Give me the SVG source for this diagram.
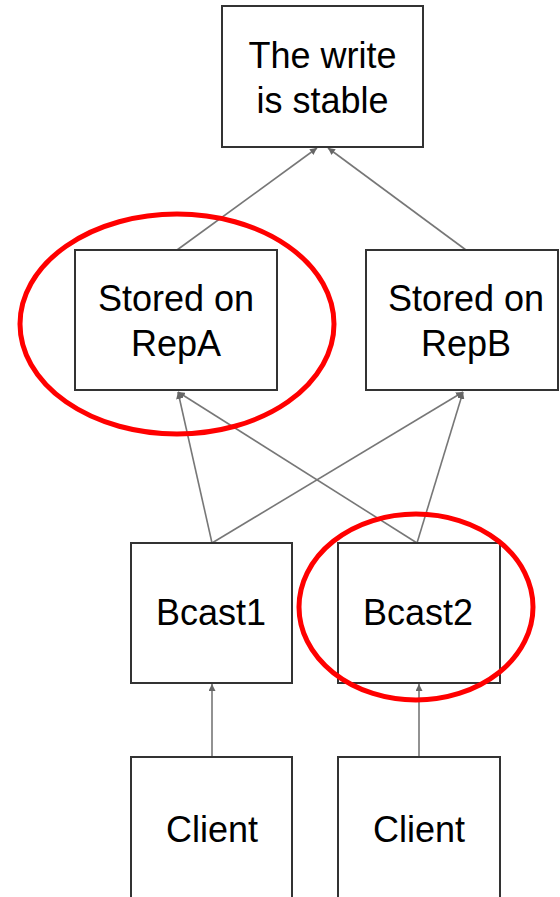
<svg xmlns="http://www.w3.org/2000/svg" width="560" height="897" viewBox="0 0 560 897">
<style>
.box{fill:#fff;stroke:#333;stroke-width:2}
.lbl{font-family:"Liberation Sans",Arial,sans-serif;font-size:36px;fill:#000;text-anchor:middle}
.edge{stroke:#777;stroke-width:1.6;fill:none;marker-end:url(#arr)}
.hl{fill:none;stroke:#f00;stroke-width:5}
</style>
<defs>
<marker id="arr" viewBox="0 0 10 10" refX="10" refY="5" markerWidth="7" markerHeight="7" markerUnits="userSpaceOnUse" orient="auto">
<path d="M0,0 L10,5 L0,10 z" fill="#666"/>
</marker>
</defs>
<rect width="560" height="897" fill="#fff"/>
<g id="connectors">
<line class="edge" x1="177" y1="250" x2="317" y2="148"/>
<line class="edge" x1="466" y1="250" x2="328" y2="148"/>
<line class="edge" x1="212" y1="543" x2="178" y2="392"/>
<line class="edge" x1="212" y1="543" x2="463" y2="392"/>
<line class="edge" x1="417" y1="543" x2="178" y2="392"/>
<line class="edge" x1="417" y1="543" x2="463" y2="392"/>
<line class="edge" x1="212" y1="757" x2="212" y2="684"/>
<line class="edge" x1="419" y1="757" x2="419" y2="684"/>
</g>
<g id="stable">
<rect class="box" x="222" y="6" width="201" height="141"/>
<text class="lbl" x="322.5" y="68">The write</text>
<text class="lbl" x="322.5" y="113">is stable</text>
</g>
<g id="repA">
<rect class="box" x="75" y="250" width="202" height="140"/>
<text class="lbl" x="176" y="311">Stored on</text>
<text class="lbl" x="176" y="356">RepA</text>
</g>
<g id="repB">
<rect class="box" x="366" y="250" width="192" height="140"/>
<text class="lbl" x="466" y="311">Stored on</text>
<text class="lbl" x="466" y="356">RepB</text>
</g>
<g id="bcast1">
<rect class="box" x="131" y="543" width="161" height="140"/>
<text class="lbl" x="211" y="625">Bcast1</text>
</g>
<g id="bcast2">
<rect class="box" x="338" y="543" width="162" height="140"/>
<text class="lbl" x="418" y="625">Bcast2</text>
</g>
<g id="client1">
<rect class="box" x="131" y="757" width="161" height="142"/>
<text class="lbl" x="212" y="842">Client</text>
</g>
<g id="client2">
<rect class="box" x="338" y="757" width="162" height="142"/>
<text class="lbl" x="419" y="842">Client</text>
</g>
<g id="highlights">
<ellipse class="hl" cx="177" cy="324" rx="157" ry="110"/>
<ellipse class="hl" cx="416" cy="607" rx="117" ry="93"/>
</g>
</svg>
